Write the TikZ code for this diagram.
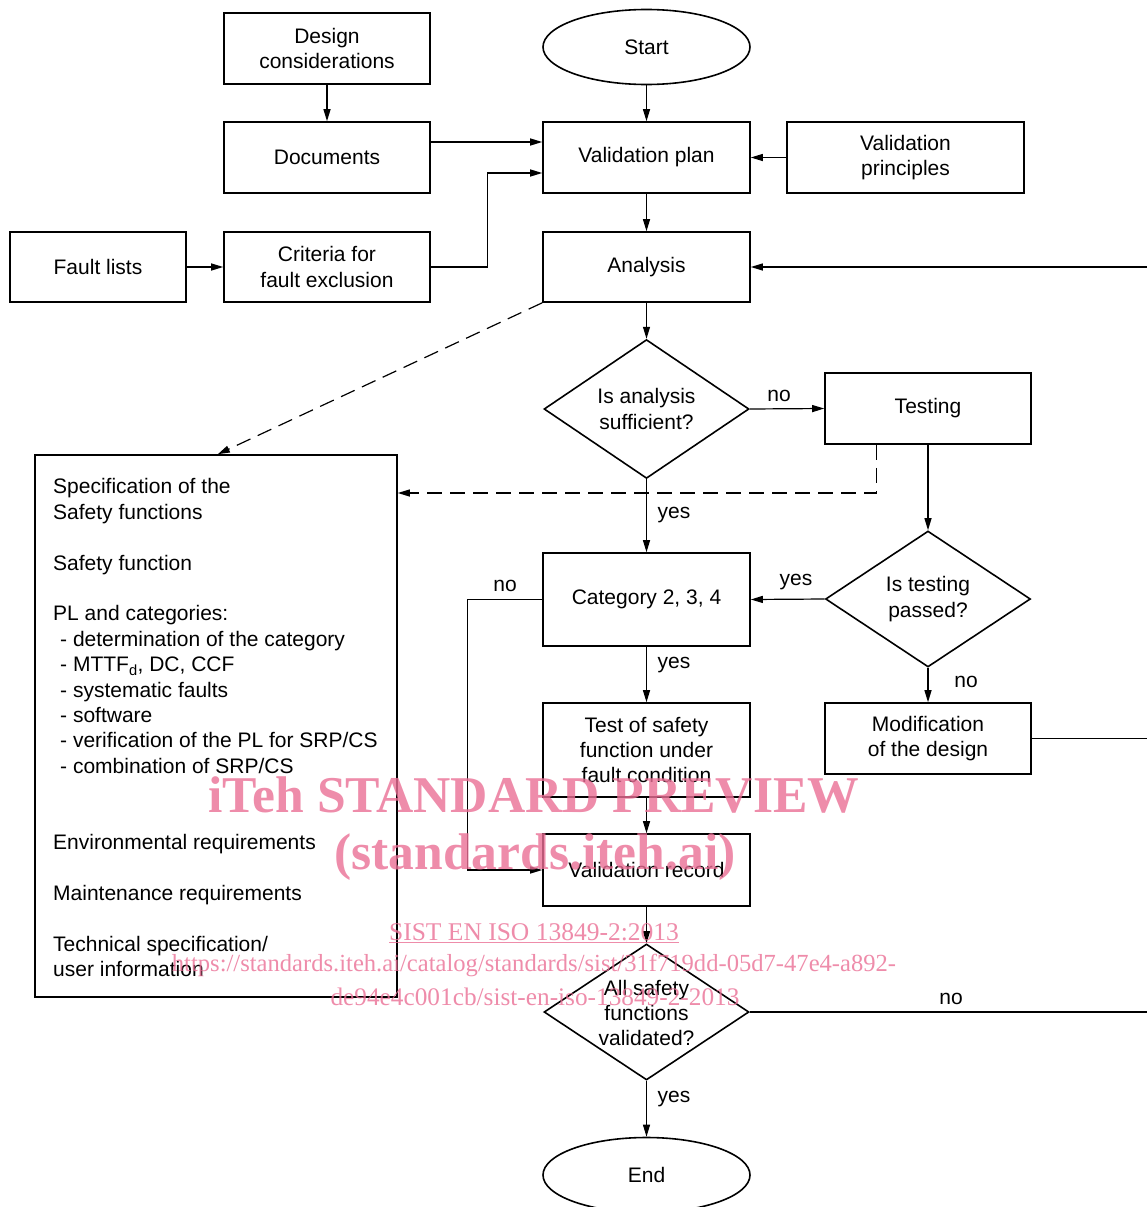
\documentclass[tikz,border=0pt]{standalone}
\usepackage{fontspec}
\setmainfont{Liberation Sans}
\newfontfamily\wmfont{Liberation Serif}
\usetikzlibrary{shapes.geometric,arrows.meta,calc}
\definecolor{wmpink}{RGB}{234,111,149}
\begin{document}
\begin{tikzpicture}[x=1pt,y=-1pt,
  every node/.style={font=\fontsize{21}{25.4}\selectfont},
  box/.style={draw,line width=1.6pt,inner sep=0pt,align=center},
  dia/.style={draw,diamond,line width=1.6pt,inner sep=0pt,align=center,
              minimum width=205pt,minimum height=136pt},
  term/.style={draw,ellipse,line width=1.6pt,inner sep=0pt,
               minimum width=207pt,minimum height=75pt},
  conn/.style={line width=1.2pt,-{Triangle[length=12pt,width=7pt]}},
  plainline/.style={line width=1.2pt},
  dconn/.style={conn,dash pattern=on 15pt off 8pt},
  lbl/.style={inner sep=0pt},
  wmbig/.style={inner sep=0pt,text=wmpink,opacity=0.8,
                font=\wmfont\bfseries\fontsize{51.6}{52}\selectfont},
  wmsmall/.style={inner sep=0pt,text=wmpink,opacity=0.8,
                font=\wmfont\fontsize{24.6}{32}\selectfont}
]
\useasboundingbox (0,0) rectangle (1147,1207);

% boxes
\node[box,minimum width=206pt,minimum height=71pt] (design) at (327,48.5) {Design\\considerations};
\node[box,minimum width=206pt,minimum height=71pt] (docs) at (327,157.5) {Documents};
\node[box,minimum width=206pt,minimum height=70pt] (crit) at (327,267) {Criteria for\\fault exclusion};
\node[box,minimum width=176pt,minimum height=70pt] (fault) at (98,267) {Fault lists};
\node[term] (start) at (646.5,47) {Start};
\node[box,minimum width=207pt,minimum height=71pt] (vplan) at (646.5,157.5) {Validation plan};
\node[box,minimum width=237pt,minimum height=71pt] (vprin) at (905.5,157.5) {Validation\\principles};
\node[box,minimum width=207pt,minimum height=70pt] (anal) at (646.5,267) {Analysis};
\node[dia] (dsuff) at (646.5,409) {Is analysis\\sufficient?};
\node[box,minimum width=206pt,minimum height=71pt] (test) at (928,408.5) {Testing};
\node[box,minimum width=362pt,minimum height=542pt] (spec) at (216,726) {};
\node[lbl,anchor=north west,align=left] (spectext) at (53,478.5) {Specification of the\\
Safety functions\\[25.4pt]
Safety function\\[25.4pt]
PL and categories:\\
\hspace*{7pt}- determination of the category\\
\hspace*{7pt}- MTTF\textsubscript{d}, DC, CCF\\
\hspace*{7pt}- systematic faults\\
\hspace*{7pt}- software\\
\hspace*{7pt}- verification of the PL for SRP/CS\\
\hspace*{7pt}- combination of SRP/CS\\[50.8pt]
Environmental requirements\\[25.4pt]
Maintenance requirements\\[25.4pt]
Technical specification/\\
user information};
\node[box,minimum width=207pt,minimum height=93pt] (cat) at (646.5,599.5) {Category 2, 3, 4};
\node[dia] (dpass) at (928,599) {Is testing\\passed?};
\node[box,minimum width=207pt,minimum height=94pt] (tsf) at (646.5,750) {Test of safety\\function under\\fault condition};
\node[box,minimum width=206pt,minimum height=71pt] (mod) at (928,738.5) {Modification\\of the design};
\node[box,minimum width=207pt,minimum height=72pt] (vrec) at (646.5,870) {Validation record};
\node[dia] (dall) at (646.5,1012) {};
\node[lbl,align=center] (dalltext) at (646.5,1013) {All safety\\functions\\validated?};
\node[term] (endn) at (646.5,1175) {End};

% off-picture return points
\coordinate (rA) at (1147,267);
\coordinate (rM) at (1147,738.5);
\coordinate (rN) at (1147,1012);

% connectors
\draw[conn] (design) -- (docs);
\draw[conn] ($(docs.east)+(0,-15.5)$) -- ($(vplan.west)+(0,-15.5)$);
\draw[conn] (crit.east) -- ++(57,0) |- ($(vplan.west)+(0,15.5)$);
\draw[conn] (fault) -- (crit);
\draw[conn] (start) -- (vplan);
\draw[conn] (vprin) -- (vplan);
\draw[conn] (vplan) -- (anal);
\draw[conn] (rA) -- (anal.east);
\draw[conn] (anal) -- (dsuff);
\draw[dconn] (anal.south west) -- ($(spec.north west)!0.505!(spec.north east)$);
\draw[conn] (dsuff.east) -- (test.west);
\coordinate (tp) at ($(test.south west)!0.252!(test.south east)$);
\coordinate (dj) at (877,493);
\draw[dconn] (tp) |- (spec.east |- dj);
\draw[conn] (dsuff.south) -- (cat.north);
\draw[conn] (test) -- (dpass.north);
\draw[conn] (dpass.west) -- (cat.east);
\draw[conn] (dpass.south) -- (mod.north);
\draw[conn] (cat) -- (tsf);
\draw[conn] (cat.west) -- ++(-75,0) |- (vrec.west);
\draw[conn] (tsf) -- (vrec);
\draw[conn] (vrec) -- (dall.north);
\draw[conn] (dall.south) -- (endn.north);
\draw[plainline] (dall.east) -- (rN);
\draw[plainline] (mod.east) -- (rM);

% labels
\node[lbl] (lno1) at (779,396) {no};
\node[lbl] (lyes1) at (674,515) {yes};
\node[lbl] (lyes2) at (796,582) {yes};
\node[lbl] (lno2) at (505,586) {no};
\node[lbl] (lyes3) at (674,665) {yes};
\node[lbl] (lno3) at (966,682) {no};
\node[lbl] (lyes4) at (674,1099) {yes};
\node[lbl] (lno4) at (951,999) {no};

% watermark
\node[wmbig] (wm1) at (534,795) {iTeh STANDARD PREVIEW};
\node[wmbig] (wm2) at (535,857) {(standards.iteh.ai)};
\node[wmsmall,font=\wmfont\fontsize{25.5}{32}\selectfont] (wm3) at (534,933) {\underline{SIST EN ISO 13849-2:2013}};
\node[wmsmall] (wm4) at (534,965) {https://standards.iteh.ai/catalog/standards/sist/31f719dd-05d7-47e4-a892-};
\node[wmsmall,font=\wmfont\fontsize{25.3}{32}\selectfont] (wm5) at (535,997) {de94e4c001cb/sist-en-iso-13849-2-2013};
\end{tikzpicture}
\end{document}
